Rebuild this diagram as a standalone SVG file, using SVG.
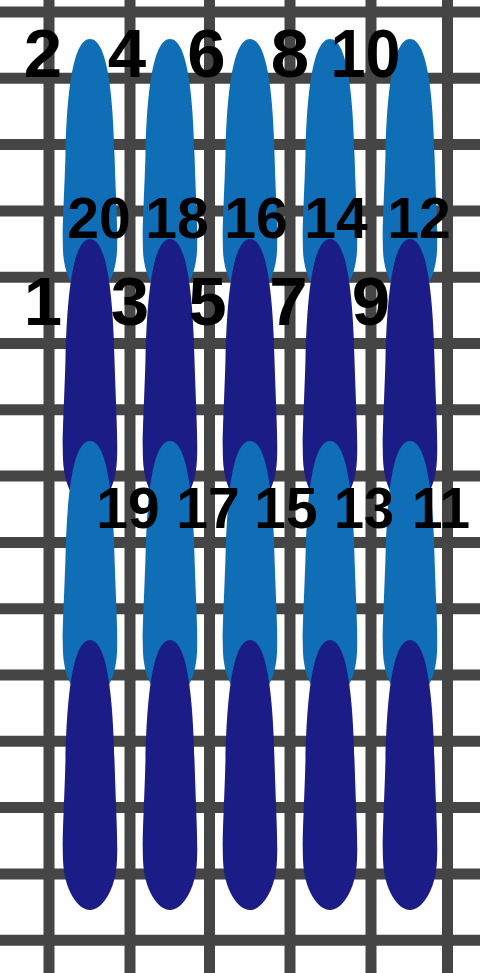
<svg xmlns="http://www.w3.org/2000/svg" xmlns:xlink="http://www.w3.org/1999/xlink" width="480" height="973" viewBox="0 0 480 973">
<style>
.grid line{stroke:#454545;stroke-width:11}
.lt{fill:#0F6EB6}
.dk{fill:#1C1C86}
text{font-family:"Liberation Sans",Arial,sans-serif;font-weight:bold;fill:#000;text-anchor:middle}
.big{font-size:69px}
.sm{font-size:57px}
</style>
<defs>
<path id="st" d="M0,0 C17,0 23,55 24.5,120 C26,170 28,200 27,220 C26,250 12,270 0,270 C-12,270 -26,250 -27,220 C-28,200 -26,170 -24.5,120 C-23,55 -17,0 0,0 Z"/>
</defs>
<rect width="480" height="973" fill="#fff"/>
<g id="grid" class="grid">
<line x1="49" y1="0" x2="49" y2="973"/>
<line x1="130" y1="0" x2="130" y2="973"/>
<line x1="209.5" y1="0" x2="209.5" y2="973"/>
<line x1="290" y1="0" x2="290" y2="973"/>
<line x1="371" y1="0" x2="371" y2="973"/>
<line x1="447.5" y1="0" x2="447.5" y2="973"/>
<line x1="0" y1="12" x2="480" y2="12"/>
<line x1="0" y1="78.3" x2="480" y2="78.3"/>
<line x1="0" y1="144.6" x2="480" y2="144.6"/>
<line x1="0" y1="210.9" x2="480" y2="210.9"/>
<line x1="0" y1="277.2" x2="480" y2="277.2"/>
<line x1="0" y1="343.5" x2="480" y2="343.5"/>
<line x1="0" y1="409.8" x2="480" y2="409.8"/>
<line x1="0" y1="476.1" x2="480" y2="476.1"/>
<line x1="0" y1="542.4" x2="480" y2="542.4"/>
<line x1="0" y1="608.7" x2="480" y2="608.7"/>
<line x1="0" y1="675" x2="480" y2="675"/>
<line x1="0" y1="741.3" x2="480" y2="741.3"/>
<line x1="0" y1="807.6" x2="480" y2="807.6"/>
<line x1="0" y1="873.9" x2="480" y2="873.9"/>
<line x1="0" y1="940.2" x2="480" y2="940.2"/>
</g>
<g id="stitches-row1-light" class="lt">
<use xlink:href="#st" transform="translate(90,39) scale(1,0.96)"/>
<use xlink:href="#st" transform="translate(170,39) scale(1,0.96)"/>
<use xlink:href="#st" transform="translate(250,39) scale(1,0.96)"/>
<use xlink:href="#st" transform="translate(330,39) scale(1,0.96)"/>
<use xlink:href="#st" transform="translate(410,39) scale(1,0.96)"/>
</g>
<g id="stitches-row1-dark" class="dk">
<use xlink:href="#st" transform="translate(90,239)"/>
<use xlink:href="#st" transform="translate(170,239)"/>
<use xlink:href="#st" transform="translate(250,239)"/>
<use xlink:href="#st" transform="translate(330,239)"/>
<use xlink:href="#st" transform="translate(410,239)"/>
</g>
<g id="stitches-row2-light" class="lt">
<use xlink:href="#st" transform="translate(90,441) scale(1,0.96)"/>
<use xlink:href="#st" transform="translate(170,441) scale(1,0.96)"/>
<use xlink:href="#st" transform="translate(250,441) scale(1,0.96)"/>
<use xlink:href="#st" transform="translate(330,441) scale(1,0.96)"/>
<use xlink:href="#st" transform="translate(410,441) scale(1,0.96)"/>
</g>
<g id="stitches-row2-dark" class="dk">
<use xlink:href="#st" transform="translate(90,640)"/>
<use xlink:href="#st" transform="translate(170,640)"/>
<use xlink:href="#st" transform="translate(250,640)"/>
<use xlink:href="#st" transform="translate(330,640)"/>
<use xlink:href="#st" transform="translate(410,640)"/>
</g>
<g id="labels">
<text class="big" x="43" y="77">2</text>
<text class="big" x="127" y="77">4</text>
<text class="big" x="206.5" y="77">6</text>
<text class="big" x="290" y="77">8</text>
<text class="big" x="365.5" y="77" textLength="70" lengthAdjust="spacingAndGlyphs">10</text>
<text class="sm" x="99" y="238">20</text>
<text class="sm" x="177" y="238">18</text>
<text class="sm" x="256" y="238">16</text>
<text class="sm" x="336" y="238">14</text>
<text class="sm" x="419" y="238">12</text>
<text class="big" x="43" y="325">1</text>
<text class="big" x="130" y="325">3</text>
<text class="big" x="207.5" y="325">5</text>
<text class="big" x="288.5" y="325">7</text>
<text class="big" x="371" y="325">9</text>
<text class="sm" x="128" y="528">19</text>
<text class="sm" x="208" y="528">17</text>
<text class="sm" x="286" y="528">15</text>
<text class="sm" x="364" y="528" textLength="60" lengthAdjust="spacingAndGlyphs">13</text>
<text class="sm" x="441" y="528" textLength="58" lengthAdjust="spacingAndGlyphs">11</text>
</g>
</svg>
